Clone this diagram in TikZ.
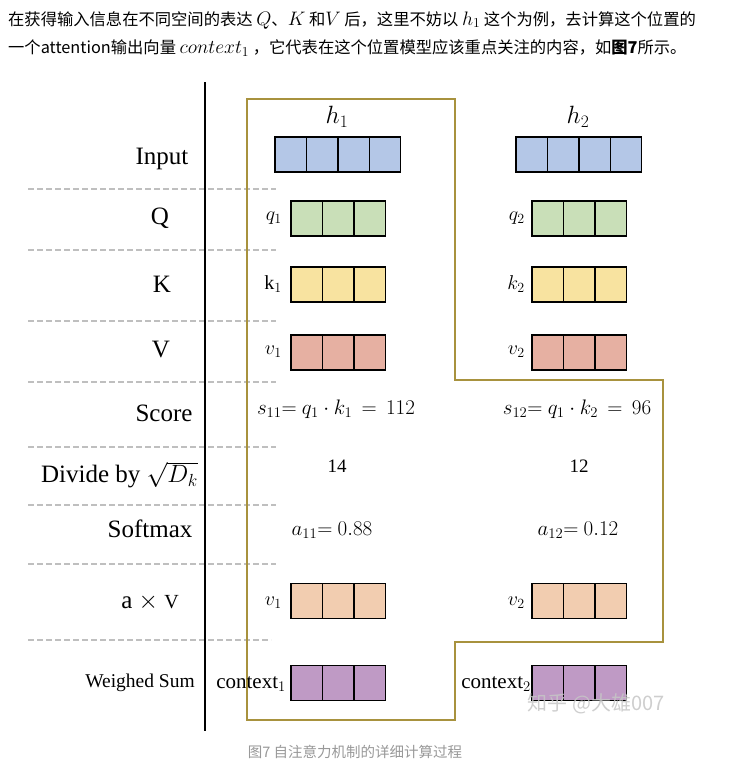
\RequirePackage{fix-cm}
\documentclass[tikz,border=0pt]{standalone}
\usepackage{fontspec}
\setmainfont{Liberation Serif}
\newfontfamily\cjk{Noto Sans CJK SC}
\definecolor{cinput}{HTML}{B4C7E7}
\definecolor{cq}{HTML}{C9DFB8}
\definecolor{ck}{HTML}{F8E3A0}
\definecolor{cv}{HTML}{E6B0A2}
\definecolor{cav}{HTML}{F2CDB0}
\definecolor{cctx}{HTML}{BF9AC5}
\definecolor{gold}{HTML}{A8923E}
\definecolor{dashgray}{HTML}{BFBFBF}
\definecolor{capgray}{HTML}{999999}
\newcommand{\vecrow}[5]{%
  \foreach \i in {1,...,#4} {
    \node[cell, fill=#5] (#1-\i) at ({#2+(\i-0.5)*31.4}, #3) {};
  }}
\newcommand{\hmath}[1]{{\fontsize{19.5}{20}\selectfont$#1$}}
\begin{document}
\begin{tikzpicture}[x=1pt,y=-1pt,
  cell/.style={draw=black, line width=1.4pt, minimum width=31.4pt, minimum height=35pt, inner sep=0pt, outer sep=0pt},
  rowlabel/.style={font=\fontsize{25}{30}\selectfont, inner sep=0pt},
  smalllabel/.style={font=\fontsize{19.5}{23}\selectfont, inner sep=0pt},
  veclabel/.style={font=\fontsize{20}{24}\selectfont, inner sep=0pt, anchor=east},
  valtext/.style={font=\fontsize{21}{25}\selectfont, inner sep=0pt},
  headtext/.style={font=\cjk\fontsize{16.3}{19}\selectfont, inner sep=0pt, anchor=west},
  dashline/.style={draw=dashgray, line width=1.4pt, dash pattern=on 6pt off 3pt},
  frame/.style={draw=gold, line width=1.6pt}]
\useasboundingbox (0,0) rectangle (736,784);
\fill[white] (0,0) rectangle (736,784);

% header
\node[headtext] (head1) at (8,20) {在获得输入信息在不同空间的表达 \hmath{Q}、\hmath{K} 和\hmath{V} 后，这里不妨以 \hmath{h_1} 这个为例，去计算这个位置的};
\node[headtext] (head2) at (8,48) {一个attention输出向量 \hmath{context_1} ，它代表在这个位置模型应该重点关注的内容，如\textbf{图7}所示。};

% dashed separators
\foreach \yy/\xe in {189/276, 250/276, 321/276, 382/276, 447/276, 505/276, 564/276, 640/271}
  \draw[dashline] (28,\yy) -- (\xe,\yy);

% vertical axis
\draw[black, line width=2pt] (205,82) -- (205,731);

% gold frame
\draw[frame] (247,99) -- (455,99) -- (455,380) -- (663,380) -- (663,642) -- (455,642) -- (455,720) -- (247,720) -- cycle;

% row labels
\node[rowlabel] (lInput) at (162,159) {Input};
\node[rowlabel] (lQ) at (160,218) {Q};
\node[rowlabel] (lK) at (162,284) {K};
\node[rowlabel] (lV) at (161,350) {V};
\node[rowlabel] (lScore) at (164,413) {Score};
\node[rowlabel, anchor=east] (lDiv) at (198,475) {Divide by $\sqrt{D_k}$};
\node[rowlabel] (lSoft) at (150,529) {Softmax};
\node[rowlabel] (lav) at (150,602) {a $\times$ {\fontsize{20}{24}\selectfont V}};
\node[smalllabel] (lws) at (140,683) {Weighed Sum};

% column headers
\node[font=\fontsize{25}{30}\selectfont, inner sep=0pt] (h1) at (337,117) {$h_1$};
\node[font=\fontsize{25}{30}\selectfont, inner sep=0pt] (h2) at (578,117) {$h_2$};

% input vectors
\vecrow{in1}{275}{154.5}{4}{cinput}
\vecrow{in2}{516}{154.5}{4}{cinput}

% Q
\vecrow{q1}{291}{218.5}{3}{cq}
\vecrow{q2}{532}{218.5}{3}{cq}
\node[veclabel] (lq1) at (282,218) {$q_1$};
\node[veclabel] (lq2) at (525,218) {$q_2$};

% K
\vecrow{k1}{291}{284.5}{3}{ck}
\vecrow{k2}{532}{284.5}{3}{ck}
\node[veclabel] (lk1) at (282,284) {$\mathrm{k}_1$};
\node[veclabel] (lk2) at (525,284) {$k_2$};

% V
\vecrow{v1}{291}{352.5}{3}{cv}
\vecrow{v2}{532}{352.5}{3}{cv}
\node[veclabel] (lv1) at (282,352) {$v_1$};
\node[veclabel] (lv2) at (525,352) {$v_2$};

% score / divide / softmax values
\node[valtext] (s11) at (336,409) {$s_{11}{=}\ q_1\cdot k_1\,=\,112$};
\node[valtext] (s12) at (577,409) {$s_{12}{=}\ q_1\cdot k_2\,=\,96$};
\node[valtext, font=\fontsize{19}{23}\selectfont] (d1) at (337,466) {14};
\node[valtext, font=\fontsize{19}{23}\selectfont] (d2) at (579,466) {12};
\node[valtext] (a11) at (332,530) {$a_{11}{=}\ 0.88$};
\node[valtext] (a12) at (578,530) {$a_{12}{=}\ 0.12$};

% a x V
\vecrow{av1}{291}{601}{3}{cav}
\vecrow{av2}{532}{601}{3}{cav}
\node[veclabel] (lav1) at (282,603) {$v_1$};
\node[veclabel] (lav2) at (525,603) {$v_2$};

% weighted sum
\vecrow{c1}{291}{683}{3}{cctx}
\vecrow{c2}{532}{683}{3}{cctx}
\node[veclabel, font=\fontsize{21}{25}\selectfont] (lc1) at (286,684) {context$_1$};
\node[veclabel, font=\fontsize{21}{25}\selectfont] (lc2) at (531,684) {context$_2$};

% watermark
\node[font=\cjk\fontsize{20}{24}\selectfont, text=gray!45, opacity=0.85, inner sep=0pt] (wm) at (596,704) {知乎 @大雄007};

% caption
\node[font=\cjk\fontsize{14.5}{17}\selectfont, text=capgray, inner sep=0pt] (cap) at (355,752) {图7 自注意力机制的详细计算过程};
\end{tikzpicture}
\end{document}
